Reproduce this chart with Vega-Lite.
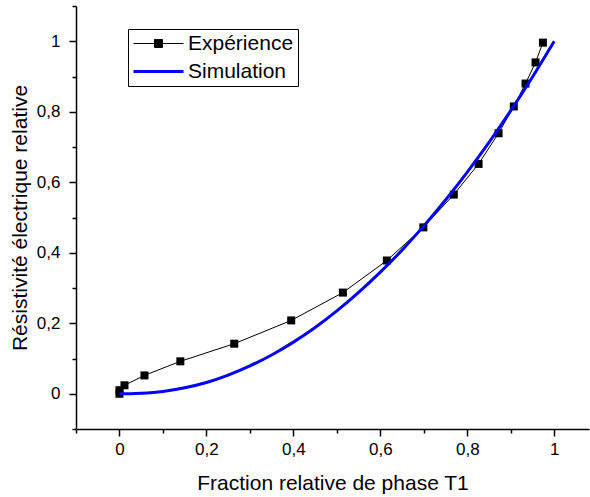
{
  "$schema": "https://vega.github.io/schema/vega-lite/v6.json",
  "width": 513,
  "height": 423,
  "autosize": {"type": "none"},
  "padding": {"left": 76, "top": 6, "right": 1, "bottom": 68},
  "background": "white",
  "config": {
    "view": {"stroke": null},
    "font": "Liberation Sans",
    "axis": {
      "grid": false,
      "domainColor": "black",
      "domainWidth": 1.5,
      "tickColor": "black",
      "tickWidth": 1.5,
      "labelFont": "Liberation Sans",
      "labelFontSize": 17,
      "labelColor": "black",
      "titleFont": "Liberation Sans",
      "titleFontSize": 21,
      "titleFontWeight": "normal",
      "titleColor": "black",
      "labelOverlap": false,
      "labelFlush": false,
      "labelBound": false
    }
  },
  "data": {
    "values": [
      {"series": "Expérience", "x": 0, "y": 0},
      {"series": "Expérience", "x": 0, "y": 0.01},
      {"series": "Expérience", "x": 0.0115, "y": 0.024},
      {"series": "Expérience", "x": 0.0575, "y": 0.052},
      {"series": "Expérience", "x": 0.14, "y": 0.092},
      {"series": "Expérience", "x": 0.264, "y": 0.142},
      {"series": "Expérience", "x": 0.395, "y": 0.208},
      {"series": "Expérience", "x": 0.514, "y": 0.287},
      {"series": "Expérience", "x": 0.615, "y": 0.378},
      {"series": "Expérience", "x": 0.699, "y": 0.472},
      {"series": "Expérience", "x": 0.769, "y": 0.565},
      {"series": "Expérience", "x": 0.826, "y": 0.652},
      {"series": "Expérience", "x": 0.872, "y": 0.739},
      {"series": "Expérience", "x": 0.907, "y": 0.815},
      {"series": "Expérience", "x": 0.934, "y": 0.88},
      {"series": "Expérience", "x": 0.957, "y": 0.94},
      {"series": "Expérience", "x": 0.974, "y": 0.996},
      {"series": "Simulation", "x": 0, "y": 0},
      {"series": "Simulation", "x": 0.025, "y": 0.0003},
      {"series": "Simulation", "x": 0.05, "y": 0.0015},
      {"series": "Simulation", "x": 0.1, "y": 0.0065},
      {"series": "Simulation", "x": 0.15, "y": 0.017},
      {"series": "Simulation", "x": 0.2, "y": 0.032},
      {"series": "Simulation", "x": 0.25, "y": 0.053},
      {"series": "Simulation", "x": 0.3, "y": 0.079},
      {"series": "Simulation", "x": 0.35, "y": 0.11},
      {"series": "Simulation", "x": 0.4, "y": 0.1465},
      {"series": "Simulation", "x": 0.45, "y": 0.188},
      {"series": "Simulation", "x": 0.5, "y": 0.235},
      {"series": "Simulation", "x": 0.55, "y": 0.2875},
      {"series": "Simulation", "x": 0.6, "y": 0.345},
      {"series": "Simulation", "x": 0.65, "y": 0.4075},
      {"series": "Simulation", "x": 0.7, "y": 0.4762},
      {"series": "Simulation", "x": 0.75, "y": 0.5497},
      {"series": "Simulation", "x": 0.8, "y": 0.6288},
      {"series": "Simulation", "x": 0.85, "y": 0.7131},
      {"series": "Simulation", "x": 0.9, "y": 0.8033},
      {"series": "Simulation", "x": 0.95, "y": 0.8988},
      {"series": "Simulation", "x": 1.0, "y": 1.0}
    ]
  },
  "encoding": {
    "x": {
      "field": "x", "type": "quantitative",
      "scale": {"domain": [-0.1, 1.08], "nice": false, "zero": false},
      "axis": {
        "title": "Fraction relative de phase T1",
        "values": [-0.1, 0, 0.1, 0.2, 0.3, 0.4, 0.5, 0.6, 0.7, 0.8, 0.9, 1.0],
        "tickSize": {"condition": {"test": "abs(datum.value*5-round(datum.value*5))<0.001", "value": 7}, "value": 4},
        "labelExpr": "abs(datum.value*5-round(datum.value*5))<0.001 ? replace(format(datum.value,'~g'),'.',',') : ''",
        "labelPadding": 5,
        "titlePadding": 15
      }
    },
    "y": {
      "field": "y", "type": "quantitative",
      "scale": {"domain": [-0.1, 1.1], "nice": false, "zero": false},
      "axis": {
        "title": "Résistivité électrique relative",
        "values": [-0.1, 0, 0.1, 0.2, 0.3, 0.4, 0.5, 0.6, 0.7, 0.8, 0.9, 1.0, 1.1],
        "tickSize": {"condition": {"test": "abs(datum.value*5-round(datum.value*5))<0.001", "value": 7}, "value": 4},
        "labelExpr": "abs(datum.value*5-round(datum.value*5))<0.001 ? replace(format(datum.value,'~g'),'.',',') : ''",
        "labelPadding": 9,
        "titlePadding": 6
      }
    }
  },
  "layer": [
    {
      "transform": [{"filter": "datum.series === 'Expérience'"}],
      "mark": {"type": "line", "strokeWidth": 1, "clip": true},
      "encoding": {
        "color": {
          "field": "series", "type": "nominal",
          "scale": {"domain": ["Expérience", "Simulation"], "range": ["black", "#0000ff"]},
          "legend": {
            "orient": "none",
            "legendX": 52,
            "legendY": 23,
            "title": null,
            "labelFont": "Liberation Sans",
            "labelFontSize": 21,
            "labelColor": "black",
            "symbolSize": 100,
            "symbolOffset": 16,
            "labelOffset": 19,
            "padding": 4,
            "rowPadding": 6,
            "strokeColor": "black",
            "fillColor": "white",
            "encode": {
              "symbols": {
                "update": {
                  "shape": {"signal": "datum.value === 'Expérience' ? 'M-5,0H5M-0.8,-0.8H0.8V0.8H-0.8Z' : 'M-5,0H5'"},
                  "fill": {"signal": "datum.value === 'Expérience' ? 'black' : 'transparent'"},
                  "stroke": {"signal": "datum.value === 'Expérience' ? 'black' : '#0000ff'"},
                  "strokeWidth": {"signal": "datum.value === 'Expérience' ? 1 : 3"},
                  "opacity": {"value": 1}
                }
              }
            }
          }
        }
      }
    },
    {
      "transform": [{"filter": "datum.series === 'Expérience'"}],
      "mark": {"type": "square", "size": 64, "filled": true, "color": "black", "opacity": 1},
      "encoding": {}
    },
    {
      "transform": [{"filter": "datum.series === 'Simulation'"}],
      "mark": {"type": "line", "strokeWidth": 3, "clip": true, "interpolate": "monotone"},
      "encoding": {
        "color": {"field": "series", "type": "nominal"}
      }
    }
  ]
}
